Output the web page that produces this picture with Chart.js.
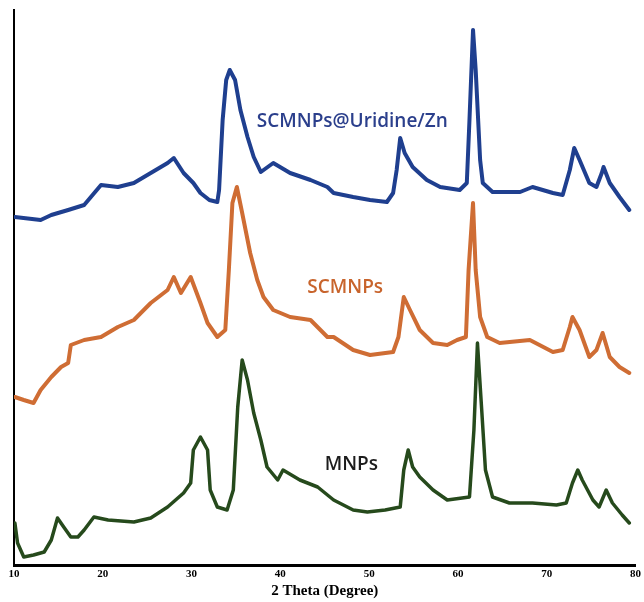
<!DOCTYPE html>
<html>
<head>
<meta charset="utf-8">
<title>XRD patterns</title>
<script src="https://cdn.jsdelivr.net/npm/chart.js@4.4.1/dist/chart.umd.min.js"></script>
<style>
  html, body { margin: 0; padding: 0; background: #fff; }
  #wrap { width: 644px; height: 602px; }
</style>
</head>
<body>
<div id="wrap"><canvas id="xrdChart" width="644" height="602"></canvas></div>
<script>
// values (2 theta in degrees, intensity in arbitrary units, curves offset)
const xTicks = [10, 20, 30, 40, 50, 60, 70, 80];

const uridineTheta = [10.1, 13.0, 14.2, 16.1, 17.9, 19.8, 21.7, 23.5, 25.4, 27.3, 28.0, 29.1, 30.2, 31.0, 32.0, 32.9, 33.1, 33.5, 33.9, 34.3, 34.9, 35.5, 36.3, 37.0, 37.8, 39.2, 41.1, 43.4, 45.3, 46.0, 48.2, 50.1, 52.0, 52.7, 53.1, 53.5, 54.0, 54.9, 56.5, 58.0, 60.2, 61.0, 61.3, 61.7, 62.0, 62.5, 62.8, 63.9, 67.0, 68.4, 70.7, 71.8, 72.6, 73.1, 73.7, 74.8, 75.6, 76.2, 76.4, 77.1, 78.2, 79.3];
const uridineCounts = [348, 345, 350, 355, 360, 380, 378, 382, 392, 402, 407, 392, 382, 372, 365, 363, 375, 445, 485, 495, 485, 455, 428, 408, 393, 402, 392, 385, 378, 372, 368, 365, 363, 372, 395, 427, 412, 398, 385, 378, 375, 382, 445, 535, 495, 405, 382, 373, 373, 378, 372, 370, 395, 417, 405, 382, 378, 392, 398, 382, 368, 355];

const scmnpTheta = [10.1, 11.1, 12.2, 13.0, 14.2, 15.3, 16.1, 16.4, 17.9, 19.8, 21.7, 23.5, 25.4, 27.3, 28.0, 28.8, 29.9, 31.0, 31.8, 32.9, 33.8, 34.2, 34.6, 35.1, 35.7, 36.6, 37.4, 38.1, 39.2, 41.1, 43.4, 45.3, 46.0, 48.2, 50.1, 52.7, 53.3, 53.9, 54.6, 55.7, 57.2, 58.8, 59.9, 60.9, 61.2, 61.7, 62.0, 62.5, 63.3, 64.7, 68.1, 70.7, 71.8, 72.6, 72.9, 73.7, 74.8, 75.6, 76.3, 77.1, 78.2, 79.3];
const scmnpCounts = [168, 165, 162, 175, 188, 198, 202, 220, 225, 228, 238, 245, 262, 275, 288, 272, 288, 262, 242, 228, 235, 295, 362, 378, 352, 312, 285, 268, 255, 248, 245, 228, 228, 215, 210, 213, 228, 268, 255, 235, 222, 220, 225, 228, 295, 362, 295, 248, 228, 222, 225, 213, 215, 238, 248, 235, 208, 215, 232, 208, 198, 192];

const mnpTheta = [10.1, 10.4, 11.1, 12.2, 13.4, 14.2, 14.9, 15.6, 16.4, 17.2, 17.9, 19.0, 20.6, 23.5, 25.4, 27.3, 29.1, 29.9, 30.2, 31.0, 31.8, 32.1, 32.9, 34.0, 34.7, 35.2, 35.7, 36.3, 37.0, 37.8, 38.5, 39.7, 40.3, 42.2, 44.2, 46.0, 48.2, 49.8, 51.8, 53.5, 53.9, 54.4, 54.9, 55.7, 57.2, 58.8, 61.3, 61.8, 62.2, 62.7, 63.1, 63.9, 65.8, 68.4, 71.1, 72.2, 72.9, 73.5, 74.0, 75.2, 75.9, 76.7, 77.4, 78.5, 79.3];
const mnpCounts = [42, 22, 8, 10, 13, 25, 47, 38, 28, 28, 35, 48, 45, 43, 47, 58, 72, 82, 115, 128, 115, 75, 58, 55, 75, 158, 205, 185, 152, 125, 98, 85, 95, 85, 78, 65, 55, 53, 55, 58, 95, 115, 98, 88, 75, 65, 68, 135, 222, 152, 95, 68, 62, 62, 60, 62, 82, 95, 85, 65, 58, 75, 62, 50, 42];

const seriesNames = ['SCMNPs@Uridine/Zn', 'SCMNPs', 'MNPs'];

function toPoints(xs, ys) {
    return xs.map((x, i) => ({ x: x, y: ys[i] }));
}

// where each curve name sits, in data units
const curveLabels = [
    { text: seriesNames[0], x: 48.1, y: 443, color: '#2b3f8c' },
    { text: seriesNames[1], x: 47.3, y: 277, color: '#c8642c' },
    { text: seriesNames[2], x: 48.0, y: 100, color: '#1c1c1c' }
];

const curveLabelPlugin = {
    id: 'curveLabels',
    afterDatasetsDraw(chart) {
        const ctx = chart.ctx;
        const xs = chart.scales.x;
        const ys = chart.scales.y;
        ctx.save();
        ctx.font = '600 19px "Open Sans", sans-serif';
        ctx.textAlign = 'center';
        ctx.textBaseline = 'middle';
        curveLabels.forEach(l => {
            ctx.fillStyle = l.color;
            ctx.fillText(l.text, xs.getPixelForValue(l.x), ys.getPixelForValue(l.y));
        });
        ctx.restore();
    }
};

function createXrdChart() {
    const ctx = document.getElementById('xrdChart').getContext('2d');
    new Chart(ctx, {
        type: 'line',
        data: {
            datasets: [
                {
                    label: seriesNames[0],
                    data: toPoints(uridineTheta, uridineCounts),
                    borderColor: '#1f3f8f',
                    borderWidth: 4
                },
                {
                    label: seriesNames[1],
                    data: toPoints(scmnpTheta, scmnpCounts),
                    borderColor: '#cf6d34',
                    borderWidth: 4
                },
                {
                    label: seriesNames[2],
                    data: toPoints(mnpTheta, mnpCounts),
                    borderColor: '#264a1c',
                    borderWidth: 3.5
                }
            ]
        },
        options: {
            responsive: false,
            animation: false,
            elements: {
                point: { radius: 0 },
                line: { tension: 0, borderJoinStyle: 'round', borderCapStyle: 'round' }
            },
            layout: { padding: { left: 14, right: 8, top: 10, bottom: 0 } },
            plugins: {
                legend: { display: false },
                tooltip: { enabled: false }
            },
            scales: {
                x: {
                    type: 'linear',
                    min: 10,
                    max: 80,
                    afterBuildTicks: scale => {
                        scale.ticks = xTicks.map(v => ({ value: v }));
                    },
                    afterFit: scale => { scale.height = 37; },
                    grid: { display: false, drawTicks: false },
                    border: { display: true, color: '#000', width: 3 },
                    ticks: {
                        color: '#000',
                        padding: 3,
                        maxRotation: 0,
                        font: { family: '"Liberation Serif", serif', size: 11, weight: 'bold' }
                    },
                    title: {
                        display: true,
                        text: '2 Theta (Degree)',
                        color: '#000',
                        padding: { top: 2, bottom: 2 },
                        font: { family: '"Liberation Serif", serif', size: 15, weight: 'bold' }
                    }
                },
                y: {
                    min: 0,
                    max: 555,
                    afterFit: scale => { scale.width = 0; },
                    grid: { display: false, drawTicks: false },
                    border: { display: true, color: '#000', width: 2 },
                    ticks: { display: false }
                }
            }
        },
        plugins: [curveLabelPlugin]
    });
}

createXrdChart();
</script>
</body>
</html>
